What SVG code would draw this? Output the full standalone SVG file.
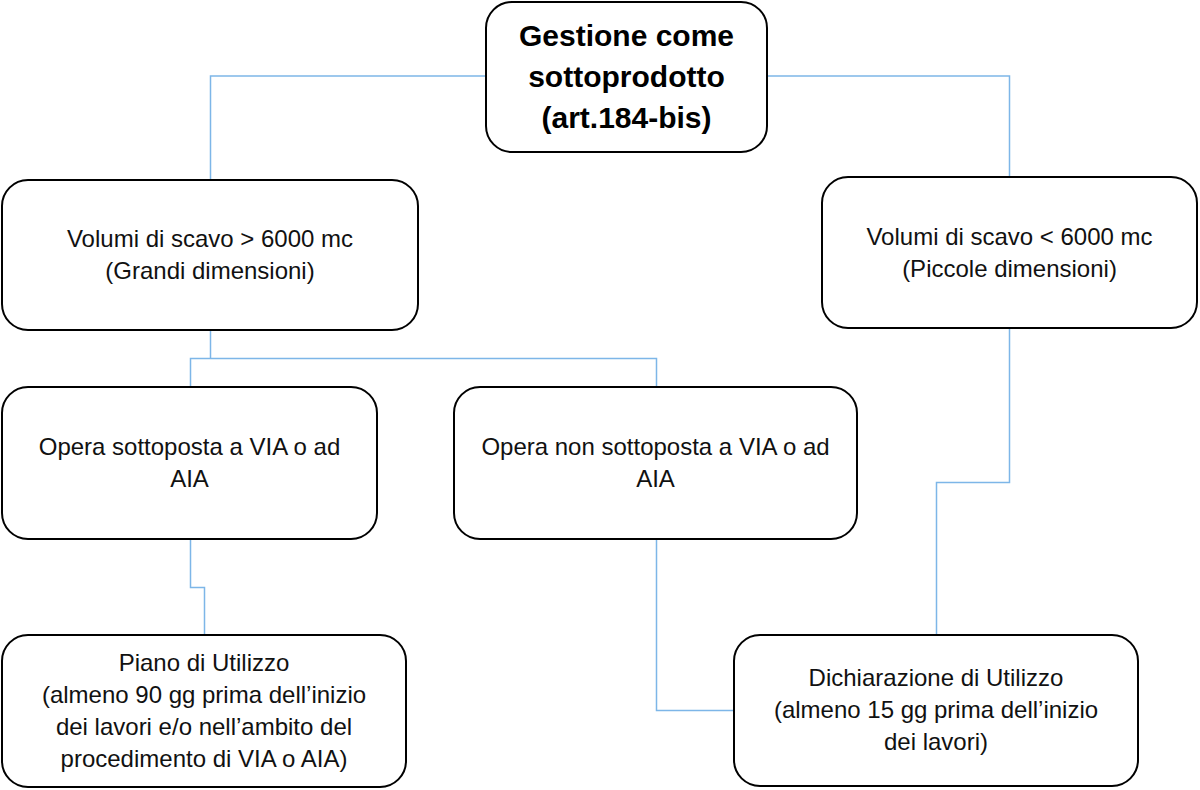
<svg xmlns="http://www.w3.org/2000/svg" width="1200" height="790" viewBox="0 0 1200 790">
<style>
.box{fill:#fff;stroke:#000;stroke-width:2}
.t{font-family:"Liberation Sans",Arial,sans-serif;font-size:24px;fill:#111;text-anchor:middle}
.tb{font-family:"Liberation Sans",Arial,sans-serif;font-size:30px;font-weight:bold;fill:#000;text-anchor:middle}
.c{fill:none;stroke:#7DB6E8;stroke-width:1.5}
</style>
<rect width="1200" height="790" fill="#fff"/>
<g id="connectors">
<path class="c" d="M486,76 H210.5 V180"/>
<path class="c" d="M767,76 H1009.5 V177"/>
<path class="c" d="M210.5,330 V358.5"/>
<path class="c" d="M190.5,387 V358.5 H656.5 V387"/>
<path class="c" d="M190.5,539 V587.5 H204.5 V635"/>
<path class="c" d="M656.5,539 V710.5 H734"/>
<path class="c" d="M1009.5,328 V482.5 H936.5 V635"/>
</g>
<g id="n-root">
<rect class="box" x="486" y="2" width="281" height="150" rx="26"/>
<text class="tb" x="626.5" y="46">Gestione come</text>
<text class="tb" x="626.5" y="87">sottoprodotto</text>
<text class="tb" x="626.5" y="128">(art.184-bis)</text>
</g>
<g id="n-grandi">
<rect class="box" x="2" y="180" width="416" height="150" rx="26"/>
<text class="t" x="210" y="247">Volumi di scavo &gt; 6000 mc</text>
<text class="t" x="210" y="279">(Grandi dimensioni)</text>
</g>
<g id="n-piccole">
<rect class="box" x="822" y="177" width="375" height="151" rx="26"/>
<text class="t" x="1009.5" y="245">Volumi di scavo &lt; 6000 mc</text>
<text class="t" x="1009.5" y="277">(Piccole dimensioni)</text>
</g>
<g id="n-via">
<rect class="box" x="2" y="387" width="375" height="152" rx="26"/>
<text class="t" x="189.5" y="455">Opera sottoposta a VIA o ad</text>
<text class="t" x="189.5" y="487">AIA</text>
</g>
<g id="n-nonvia">
<rect class="box" x="454" y="387" width="403" height="152" rx="26"/>
<text class="t" x="655.5" y="455">Opera non sottoposta a VIA o ad</text>
<text class="t" x="655.5" y="487">AIA</text>
</g>
<g id="n-piano">
<rect class="box" x="2" y="635" width="404" height="152" rx="26"/>
<text class="t" x="204" y="671">Piano di Utilizzo</text>
<text class="t" x="204" y="703">(almeno 90 gg prima dell’inizio</text>
<text class="t" x="204" y="735">dei lavori e/o nell’ambito del</text>
<text class="t" x="204" y="767">procedimento di VIA o AIA)</text>
</g>
<g id="n-dich">
<rect class="box" x="734" y="635" width="404" height="151" rx="26"/>
<text class="t" x="936" y="686">Dichiarazione di Utilizzo</text>
<text class="t" x="936" y="718">(almeno 15 gg prima dell’inizio</text>
<text class="t" x="936" y="750">dei lavori)</text>
</g>
</svg>
